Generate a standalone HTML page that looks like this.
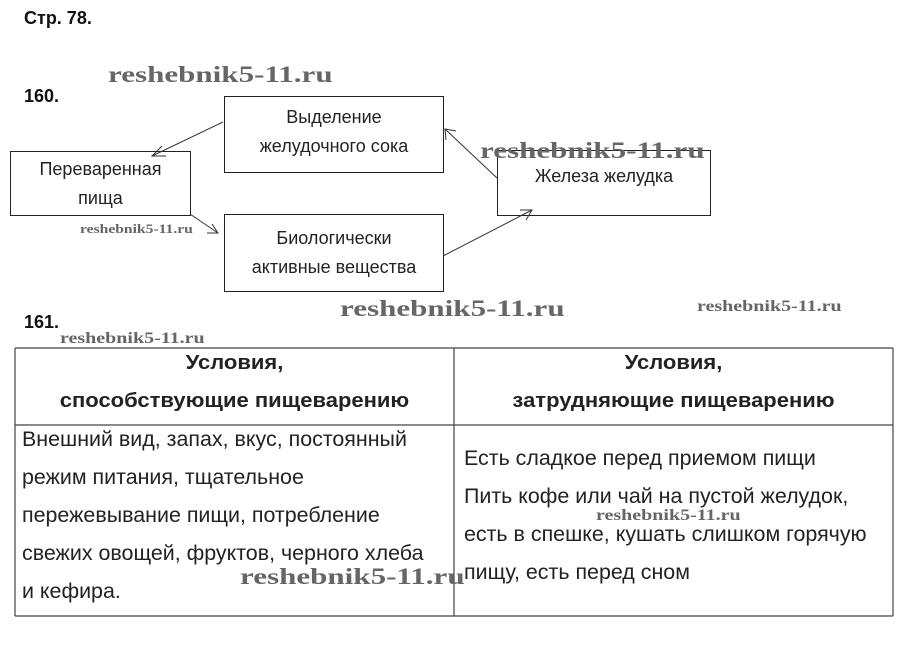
<!DOCTYPE html>
<html><head><meta charset="utf-8"><style>
body{margin:0;width:904px;height:660px;background:#fff;position:relative;overflow:hidden;font-family:"Liberation Sans","DejaVu Sans",sans-serif;color:#111}
.a{position:absolute;white-space:nowrap}
.box{position:absolute;border:1.3px solid #222;box-sizing:border-box;display:flex;align-items:center;justify-content:center;text-align:center;font-size:18px;line-height:29px;color:#222}
.wm{position:absolute;font-family:"Liberation Serif",serif;font-weight:bold;color:#666;white-space:nowrap;transform-origin:left}
.t{font-size:21px;color:#222;transform:scaleX(1.02);transform-origin:left}
.h{font-weight:bold;font-size:20px;color:#222;text-align:center;position:absolute;transform:scaleX(1.1)}
</style></head><body>
<div class="a" style="left:24px;top:8px;font-size:18px;font-weight:bold">Стр. 78.</div>
<div class="a" style="left:24px;top:86px;font-size:18px;font-weight:bold">160.</div>
<div class="a" style="left:24px;top:312px;font-size:18px;font-weight:bold">161.</div>

<div class="box" style="left:224px;top:96px;width:220px;height:77px;padding-bottom:6px">Выделение<br>желудочного сока</div>
<div class="box" style="left:10px;top:151px;width:181px;height:65px">Переваренная<br>пища</div>
<div class="box" style="left:224px;top:214px;width:220px;height:78px">Биологически<br>активные вещества</div>
<div class="box" style="left:497px;top:150px;width:214px;height:66px;padding-bottom:14px">Железа желудка</div>

<svg width="904" height="660" style="position:absolute;left:0;top:0">
<g stroke="#333" stroke-width="1" fill="none">
<line x1="223" y1="122" x2="152" y2="156"/><polyline points="162,146 152,156 166,156"/>
<line x1="190" y1="214" x2="218" y2="233"/><polyline points="207,233 218,233 212,224"/>
<line x1="443" y1="256" x2="532" y2="210"/><polyline points="520,210 532,210 526,220"/>
<line x1="497" y1="178" x2="445" y2="129"/><polyline points="446,140 445,129 456,131"/>
</g>
<g stroke="#444" stroke-width="1.2">
<line x1="15" y1="348" x2="893" y2="348"/>
<line x1="15" y1="425" x2="893" y2="425"/>
<line x1="15" y1="616" x2="893" y2="616"/>
<line x1="15" y1="348" x2="15" y2="616"/>
<line x1="893" y1="348" x2="893" y2="616"/>
<line x1="454" y1="348" x2="454" y2="616"/>
</g>
</svg>

<div class="h" style="left:15px;width:439px;top:344px;line-height:38px">Условия,<br>способствующие пищеварению</div>
<div class="h" style="left:454px;width:439px;top:344px;line-height:38px">Условия,<br>затрудняющие пищеварению</div>

<div class="a t" style="left:22px;top:421px;line-height:38px">Внешний вид, запах, вкус, постоянный<br>режим питания, тщательное<br>пережевывание пищи, потребление<br>свежих овощей, фруктов, черного хлеба<br>и кефира.</div>
<div class="a t" style="left:464px;top:440px;line-height:38px">Есть сладкое перед приемом пищи<br>Пить кофе или чай на пустой желудок,<br>есть в спешке, кушать слишком горячую<br>пищу, есть перед сном</div>

<div class="wm" style="left:108px;top:62px;font-size:23px;transform:scaleX(1.35)">reshebnik5-11.ru</div>
<div class="wm" style="left:480px;top:138px;font-size:23px;transform:scaleX(1.35)">reshebnik5-11.ru</div>
<div class="wm" style="left:80px;top:221px;font-size:13px;transform:scaleX(1.2)">reshebnik5-11.ru</div>
<div class="wm" style="left:340px;top:296px;font-size:23px;transform:scaleX(1.35)">reshebnik5-11.ru</div>
<div class="wm" style="left:697px;top:298px;font-size:16px;transform:scaleX(1.25)">reshebnik5-11.ru</div>
<div class="wm" style="left:60px;top:330px;font-size:16px;transform:scaleX(1.25)">reshebnik5-11.ru</div>
<div class="wm" style="left:596px;top:507px;font-size:16px;transform:scaleX(1.25)">reshebnik5-11.ru</div>
<div class="wm" style="left:240px;top:564px;font-size:23px;transform:scaleX(1.35)">reshebnik5-11.ru</div>
</body></html>
